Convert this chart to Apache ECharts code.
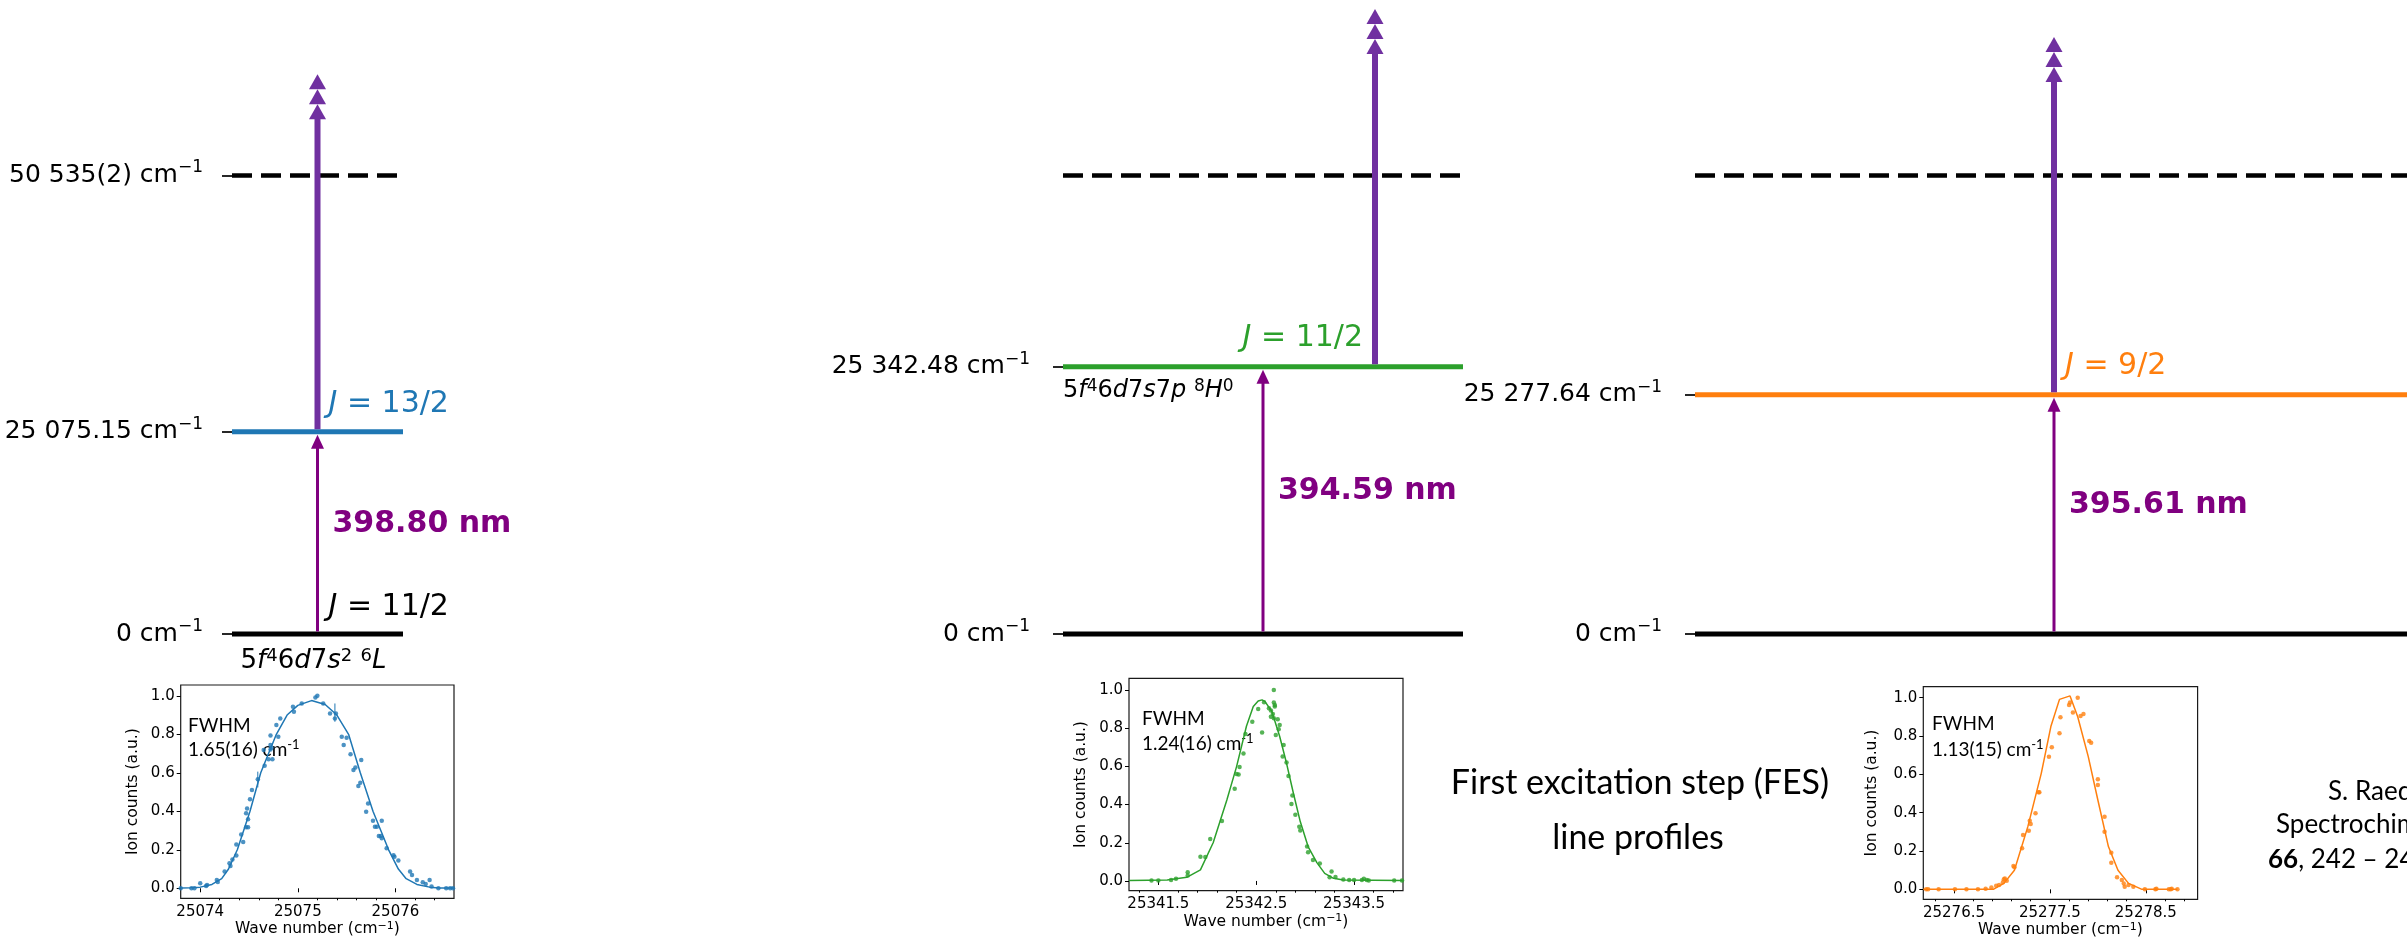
<!DOCTYPE html>
<html>
<head>
<meta charset="utf-8">
<script src="https://cdn.jsdelivr.net/npm/echarts@6/dist/echarts.min.js"></script>
<style>
html,body{margin:0;padding:0;background:#fff;}
#c{width:2407px;height:943px;}
</style>
</head>
<body>
<div id="c"></div>
<script>
// ---------------- DATA ----------------
const levelColors = ['#1f77b4', '#2ca02c', '#ff7f0e'];
const fesEnergyLabels = ['25 075.15', '25 342.48', '25 277.64'];
const groundEnergyLabel = '0';
const ipEnergyLabel = '50 535(2)';
// schematic level heights (ionisation potential = 1)
const fesLevelHeight = [0.441, 0.583, 0.522];
const ipLevelHeight = 1.0;
const secondStepLength = 0.78;
const fesWavelengths = ['398.80 nm', '394.59 nm', '395.61 nm'];
const fesJ = ['13/2', '11/2', '9/2'];
const groundJ = '11/2';
const firstStepX = [0.5, 0.5, 0.5];
const secondStepX = [0.5, 0.78, 0.5];
const showIpLabel = [true, false, false];
const groundConfig = '5{i|f}{s|4}6{i|d}7{i|s}{s|2} {s|6}{i|L}';
const fesConfig2 = '5{i|f}{s|4}6{i|d}7{i|s}7{i|p} {s|8}{i|H}{s|0}';

const fwhmLabels = ['1.65(16)', '1.24(16)', '1.13(15)'];
const insetXTicks = [
  [25074, 25075, 25076],
  [25341.5, 25342.5, 25343.5],
  [25276.5, 25277.5, 25278.5]
];
const insetYTicks = [0, 0.2, 0.4, 0.6, 0.8, 1.0];

const fes1Data = [[25073.80,0.000],[25073.91,0.000],[25073.94,0.000],[25074.00,0.026],[25074.06,0.012],[25074.07,0.017],[25074.17,0.043],[25074.18,0.033],[25074.25,0.087],[25074.30,0.130],[25074.31,0.116],[25074.33,0.150],[25074.37,0.170],[25074.37,0.227],[25074.42,0.280],[25074.44,0.240],[25074.47,0.317],[25074.49,0.317],[25074.47,0.390],[25074.48,0.415],[25074.49,0.358],[25074.51,0.462],[25074.53,0.510],[25074.59,0.567],[25074.66,0.637],[25074.65,0.718],[25074.70,0.670],[25074.72,0.744],[25074.72,0.721],[25074.72,0.794],[25074.73,0.730],[25074.74,0.670],[25074.78,0.848],[25074.80,0.787],[25074.82,0.882],[25074.95,0.943],[25074.96,0.917],[25075.04,0.960],[25075.18,0.991],[25075.20,1.000],[25075.26,0.960],[25075.33,0.908],[25075.38,0.882],[25075.39,0.908],[25075.45,0.787],[25075.50,0.782],[25075.47,0.744],[25075.54,0.696],[25075.57,0.614],[25075.59,0.628],[25075.62,0.531],[25075.64,0.548],[25075.65,0.666],[25075.70,0.398],[25075.72,0.441],[25075.77,0.351],[25075.79,0.320],[25075.81,0.320],[25075.86,0.351],[25075.83,0.272],[25075.85,0.272],[25075.86,0.260],[25075.91,0.208],[25075.99,0.164],[25075.98,0.171],[25076.03,0.144],[25076.15,0.087],[25076.17,0.069],[25076.22,0.043],[25076.28,0.031],[25076.31,0.022],[25076.35,0.043],[25076.37,0.009],[25076.44,0.000],[25076.52,0.000],[25076.56,0.000],[25076.59,0.000]];
const fes1Fit = [[25073.80,0.002],[25073.90,0.003],[25074.00,0.006],[25074.12,0.020],[25074.22,0.050],[25074.29,0.100],[25074.38,0.200],[25074.51,0.400],[25074.62,0.600],[25074.78,0.800],[25074.89,0.900],[25075.00,0.950],[25075.14,0.975],[25075.28,0.955],[25075.40,0.900],[25075.52,0.800],[25075.64,0.600],[25075.77,0.400],[25075.93,0.200],[25076.03,0.100],[25076.11,0.050],[25076.22,0.020],[25076.35,0.006],[25076.45,0.002],[25076.60,0.001]];
const fes1ErrorBars = [[25074.59,0.524,0.606],[25075.38,0.865,0.960]];

const fes2Data = [[25341.43,0.002],[25341.50,0.003],[25341.63,0.005],[25341.68,0.012],[25341.80,0.045],[25341.80,0.028],[25341.93,0.127],[25341.98,0.126],[25342.03,0.220],[25342.15,0.314],[25342.28,0.483],[25342.30,0.560],[25342.32,0.557],[25342.33,0.597],[25342.37,0.667],[25342.39,0.770],[25342.46,0.834],[25342.52,0.900],[25342.56,0.777],[25342.58,0.935],[25342.63,0.904],[25342.65,0.892],[25342.65,0.860],[25342.67,0.874],[25342.68,1.000],[25342.68,0.934],[25342.69,0.921],[25342.69,0.913],[25342.68,0.852],[25342.70,0.764],[25342.72,0.846],[25342.74,0.817],[25342.73,0.794],[25342.78,0.712],[25342.77,0.651],[25342.81,0.620],[25342.83,0.550],[25342.87,0.447],[25342.86,0.403],[25342.90,0.346],[25342.94,0.284],[25342.95,0.264],[25343.02,0.180],[25343.03,0.150],[25343.08,0.110],[25343.15,0.091],[25343.25,0.019],[25343.27,0.050],[25343.31,0.021],[25343.39,0.007],[25343.45,0.005],[25343.50,0.005],[25343.58,0.005],[25343.60,0.012],[25343.63,0.005],[25343.65,0.002],[25343.91,0.002],[25343.99,0.002]];
const fes2Fit = [[25341.20,0.003],[25341.59,0.005],[25341.79,0.019],[25341.93,0.058],[25342.06,0.200],[25342.20,0.424],[25342.30,0.600],[25342.40,0.810],[25342.47,0.913],[25342.52,0.942],[25342.56,0.948],[25342.59,0.939],[25342.66,0.887],[25342.74,0.756],[25342.81,0.616],[25342.88,0.459],[25342.95,0.311],[25343.03,0.180],[25343.12,0.096],[25343.20,0.040],[25343.29,0.014],[25343.39,0.005],[25344.00,0.003]];

const fes3Data = [[25276.21,0.000],[25276.23,0.000],[25276.34,0.000],[25276.51,0.000],[25276.63,0.000],[25276.75,0.000],[25276.83,0.003],[25276.89,0.009],[25276.94,0.019],[25276.97,0.023],[25277.01,0.037],[25277.02,0.052],[25277.03,0.057],[25277.05,0.045],[25277.12,0.122],[25277.13,0.115],[25277.21,0.214],[25277.22,0.283],[25277.28,0.306],[25277.29,0.358],[25277.30,0.341],[25277.35,0.397],[25277.38,0.506],[25277.39,0.506],[25277.49,0.692],[25277.52,0.741],[25277.60,0.814],[25277.61,0.897],[25277.70,0.962],[25277.71,0.974],[25277.74,0.922],[25277.79,1.000],[25277.82,0.904],[25277.85,0.915],[25277.91,0.774],[25277.93,0.765],[25278.00,0.574],[25278.00,0.544],[25278.07,0.379],[25278.07,0.301],[25278.14,0.191],[25278.14,0.139],[25278.20,0.063],[25278.25,0.049],[25278.27,0.031],[25278.28,0.014],[25278.32,0.023],[25278.37,0.014],[25278.49,0.000],[25278.60,0.000],[25278.61,0.003],[25278.74,0.000],[25278.76,0.000],[25278.77,0.003],[25278.83,0.000]];
const fes3Fit = [[25276.18,0.000],[25276.91,0.000],[25277.02,0.031],[25277.13,0.100],[25277.27,0.327],[25277.41,0.605],[25277.51,0.849],[25277.60,0.991],[25277.71,1.009],[25277.79,0.900],[25277.90,0.692],[25278.00,0.466],[25278.11,0.223],[25278.21,0.100],[25278.32,0.031],[25278.46,0.000],[25278.83,0.000]];

const profileData = [fes1Data, fes2Data, fes3Data];
const profileFit = [fes1Fit, fes2Fit, fes3Fit];

// ---------------- LAYOUT ----------------
const FONT = 'DejaVu Sans';
const CAL = 'Lato';
const BASE_Y = 634;        // pixel row of the ground level
const PX_PER_UNIT = 458.5; // pixels per schematic unit
const Y_MAX = 1.38;
const panelLayout = [
  {left: 232, width: 171, axisOffset: 5, labelMargin: 24},
  {left: 1063, width: 400, axisOffset: 13, labelMargin: 20},
  {left: 1695, width: 718, axisOffset: 11, labelMargin: 22}
];
const insetLayout = [
  {left: 180.7, top: 685, width: 273.3, height: 213.3, xMin: 25073.80, xMax: 25076.60, yMin: -0.052, yMax: 1.056, nameGapY: 40, dec: 0},
  {left: 1129, top: 678.3, width: 274, height: 212.4, xMin: 25341.20, xMax: 25344.00, yMin: -0.051, yMax: 1.061, nameGapY: 40, dec: 1},
  {left: 1923.3, top: 686.7, width: 274.3, height: 212.6, xMin: 25276.18, xMax: 25279.04, yMin: -0.052, yMax: 1.057, nameGapY: 43, dec: 1}
];
const fwhmPos = [[188, 726, 750], [1142, 719, 744], [1932, 724, 750]];

function richFor(size, color, family, supScale, supRaise) {
  const s = Math.round(size * supScale);
  const H = s + 2 * supRaise;
  return {
    lineHeight: H,
    rich: {
      i: {fontStyle: 'italic', fontSize: size, fontFamily: family, color: color, fill: color},
      s: {fontSize: s, lineHeight: s, verticalAlign: 'top', fontFamily: family, color: color, fill: color},
      b: {fontWeight: 'bold', fontSize: size, fontFamily: family, color: color, fill: color}
    }
  };
}

const grids = [], xAxes = [], yAxes = [], series = [];

panelLayout.forEach((P, p) => {
  grids.push({left: P.left, width: P.width, top: BASE_Y - PX_PER_UNIT * Y_MAX, height: PX_PER_UNIT * Y_MAX,
    containLabel: false, outerBoundsMode: 'none'});
  xAxes.push({gridIndex: p, type: 'value', min: 0, max: 1, show: false});
  const vals = [0, fesLevelHeight[p]];
  const labs = [groundEnergyLabel + ' cm{s|\u22121}', fesEnergyLabels[p] + ' cm{s|\u22121}'];
  if (showIpLabel[p]) { vals.push(ipLevelHeight); labs.push(ipEnergyLabel + ' cm{s|\u22121}'); }
  const R = richFor(25, '#000', FONT, 0.68, 7.5);
  yAxes.push({gridIndex: p, type: 'value', min: 0, max: Y_MAX, position: 'left', offset: P.axisOffset,
    axisLine: {show: false}, splitLine: {show: false},
    axisTick: {show: true, length: 10, inside: false, customValues: vals, lineStyle: {color: '#000', width: 1.7}},
    axisLabel: {show: true, customValues: vals, margin: P.labelMargin,
      formatter: v => { for (let k = 0; k < vals.length; k++) if (Math.abs(vals[k] - v) < 1e-6) return labs[k]; return ''; },
      fontSize: 25, fontFamily: FONT, color: '#000', lineHeight: R.lineHeight, rich: R.rich}
  });

  // levels
  const levels = [
    {x0: 0, x1: 1, y: ipLevelHeight, color: '#000', dash: true},
    {x0: 0, x1: 1, y: 0, color: '#000', dash: false},
    {x0: 0, x1: 1, y: fesLevelHeight[p], color: levelColors[p], dash: false}
  ];
  series.push({type: 'custom', xAxisIndex: p, yAxisIndex: p, z: 2, silent: true,
    data: levels.map(L => [L.x0, L.y, L.x1]),
    renderItem: (params, api) => {
      const L = levels[params.dataIndex];
      const a = api.coord([L.x0, L.y]), b = api.coord([L.x1, L.y]);
      return {type: 'line', shape: {x1: a[0], y1: a[1], x2: b[0], y2: b[1]},
        style: {stroke: L.color, lineWidth: L.dash ? 4.5 : 5, lineDash: L.dash ? [20, 9] : null, lineCap: 'butt'}};
    }
  });

  // arrows
  const arrows = [
    {x: firstStepX[p], y0: 0, y1: fesLevelHeight[p], kind: 'fes'},
    {x: secondStepX[p], y0: fesLevelHeight[p], y1: fesLevelHeight[p] + secondStepLength, kind: 'ion'}
  ];
  series.push({type: 'custom', xAxisIndex: p, yAxisIndex: p, z: 3, silent: true,
    data: arrows.map(A => [A.x, A.y0, A.y1]),
    renderItem: (params, api) => {
      const A = arrows[params.dataIndex];
      const a = api.coord([A.x, A.y0]), b = api.coord([A.x, A.y1]);
      const x = a[0];
      const ch = [];
      if (A.kind === 'fes') {
        const tip = b[1] + 3, hh = 14, hw = 6.5;
        ch.push({type: 'line', shape: {x1: x, y1: a[1] - 2.5, x2: x, y2: tip + hh - 1}, style: {stroke: '#800080', lineWidth: 3}});
        ch.push({type: 'polygon', shape: {points: [[x, tip], [x - hw, tip + hh], [x + hw, tip + hh]]}, style: {fill: '#800080'}});
      } else {
        const tip = b[1], hh = 15, hw = 8.5;
        ch.push({type: 'line', shape: {x1: x, y1: a[1] - 2.5, x2: x, y2: tip + 3 * hh - 2}, style: {stroke: '#7030a0', lineWidth: 6}});
        for (let k = 0; k < 3; k++) {
          ch.push({type: 'polygon', shape: {points: [[x, tip + k * hh], [x - hw, tip + (k + 1) * hh], [x + hw, tip + (k + 1) * hh]]}, style: {fill: '#7030a0'}});
        }
      }
      return {type: 'group', children: ch};
    }
  });

  // labels
  const labels = [];
  labels.push({x: secondStepX[p], y: fesLevelHeight[p], text: '{i|J} = ' + fesJ[p], color: levelColors[p], size: 30,
    dx: p === 1 ? -12 : 11, dy: -28, align: p === 1 ? 'right' : 'left'});
  labels.push({x: firstStepX[p], y: fesLevelHeight[p] / 2, text: fesWavelengths[p], color: '#800080', size: 30, weight: 'bold',
    dx: 15, dy: -9, align: 'left'});
  if (p === 0) {
    labels.push({x: firstStepX[p], y: 0, text: '{i|J} = ' + groundJ, color: '#000', size: 30, dx: 11, dy: -27, align: 'left'});
    labels.push({x: firstStepX[p], y: 0, text: groundConfig, color: '#000', size: 26, dx: -4, dy: 27, align: 'center', sup: 4.5});
  }
  if (p === 1) {
    labels.push({x: 0, y: fesLevelHeight[p], text: fesConfig2, color: '#000', size: 24, dx: 0, dy: 24, align: 'left', sup: 4});
  }
  series.push({type: 'custom', xAxisIndex: p, yAxisIndex: p, z: 4, silent: true,
    data: labels.map(T => [T.x, T.y]),
    renderItem: (params, api) => {
      const T = labels[params.dataIndex];
      const c = api.coord([T.x, T.y]);
      const R = richFor(T.size, T.color, FONT, 0.7, T.sup || 4);
      return {type: 'text', x: c[0] + T.dx, y: c[1] + T.dy,
        style: {text: T.text, fill: T.color, fontSize: T.size, fontFamily: FONT, fontWeight: T.weight || 'normal',
          lineHeight: R.lineHeight, rich: R.rich, align: T.align, verticalAlign: 'middle'}};
    }
  });
});

// ---------------- INSETS ----------------
insetLayout.forEach((I, i) => {
  const g = 3 + i;
  grids.push({left: I.left, top: I.top, width: I.width, height: I.height, show: true,
    borderColor: '#1a1a1a', borderWidth: 1.2, backgroundColor: 'transparent', containLabel: false, outerBoundsMode: 'none'});
  const Rn = richFor(15.5, '#000', FONT, 0.7, 3.5);
  xAxes.push({gridIndex: g, type: 'value', min: I.xMin, max: I.xMax, position: 'bottom',
    axisLine: {show: false}, splitLine: {show: false},
    axisTick: {show: true, length: 4, inside: false, customValues: insetXTicks[i], lineStyle: {color: '#000', width: 1}},
    axisLabel: {show: true, customValues: insetXTicks[i], margin: 6, fontSize: 15, fontFamily: FONT, color: '#000',
      formatter: v => v.toFixed(I.dec)},
    name: 'Wave number (cm{s|\u22121})', nameLocation: 'middle', nameGap: 20,
    nameTextStyle: {fontSize: 15.5, fontFamily: FONT, color: '#000', lineHeight: Rn.lineHeight, rich: Rn.rich}
  });
  yAxes.push({gridIndex: g, type: 'value', min: I.yMin, max: I.yMax, position: 'left',
    axisLine: {show: false}, splitLine: {show: false},
    axisTick: {show: true, length: 4, inside: false, customValues: insetYTicks, lineStyle: {color: '#000', width: 1}},
    axisLabel: {show: true, customValues: insetYTicks, margin: 6, fontSize: 15, fontFamily: FONT, color: '#000',
      formatter: v => v.toFixed(1)},
    name: 'Ion counts (a.u.)', nameLocation: 'middle', nameGap: I.nameGapY,
    nameTextStyle: {fontSize: 15.5, fontFamily: FONT, color: '#000'}
  });
});
// minor x ticks of the insets
insetLayout.forEach((I, i) => {
  const minor = [];
  const start = insetXTicks[i][0];
  for (let k = -10; k <= 20; k++) {
    const v = +(start + k * 0.2).toFixed(3);
    if (v > I.xMin + 1e-6 && v < I.xMax - 1e-6 && Math.abs((v - start) % 1) > 1e-6 && Math.abs((v - start) % 1 - 1) > 1e-6) minor.push(v);
  }
  xAxes.push({gridIndex: 3 + i, type: 'value', min: I.xMin, max: I.xMax, position: 'bottom',
    axisLine: {show: false}, splitLine: {show: false}, axisLabel: {show: false},
    axisTick: {show: true, length: 2, inside: false, customValues: minor, lineStyle: {color: '#000', width: 1}}});
});

insetLayout.forEach((I, i) => {
  const g = 3 + i;
  series.push({type: 'line', xAxisIndex: g, yAxisIndex: g, data: profileFit[i], showSymbol: false, symbol: 'none',
    lineStyle: {color: levelColors[i], width: 1.5}, silent: true, z: 3});
  series.push({type: 'scatter', xAxisIndex: g, yAxisIndex: g, data: profileData[i], symbolSize: 4.5,
    itemStyle: {color: levelColors[i]}, silent: true, z: 4});
});
series.push({type: 'custom', xAxisIndex: 3, yAxisIndex: 3, silent: true, z: 4,
  data: fes1ErrorBars,
  renderItem: (params, api) => {
    const a = api.coord([api.value(0), api.value(1)]), b = api.coord([api.value(0), api.value(2)]);
    return {type: 'line', shape: {x1: a[0], y1: a[1], x2: b[0], y2: b[1]}, style: {stroke: levelColors[0], lineWidth: 1}};
  }
});

// ---------------- TEXT ----------------
const graphics = [];
fwhmPos.forEach((F, i) => {
  const R = richFor(19, '#000', CAL, 0.68, 5);
  graphics.push({type: 'text', x: F[0], y: F[1], silent: true,
    style: {text: 'FWHM', fontSize: 19, fontFamily: CAL, fill: '#000', align: 'left', verticalAlign: 'middle'}});
  graphics.push({type: 'text', x: F[0], y: F[2], silent: true,
    style: {text: fwhmLabels[i] + ' cm{s|-1}', fontSize: 19, fontFamily: CAL, fill: '#000', align: 'left', verticalAlign: 'middle',
      lineHeight: R.lineHeight, rich: R.rich}});
});
graphics.push({type: 'text', x: 1640, y: 783, silent: true,
  style: {text: 'First excitation step (FES)', fontSize: 34, fontFamily: CAL, fill: '#000', align: 'center', verticalAlign: 'middle'}});
graphics.push({type: 'text', x: 1638, y: 838, silent: true,
  style: {text: 'line profiles', fontSize: 34, fontFamily: CAL, fill: '#000', align: 'center', verticalAlign: 'middle'}});
const refR = richFor(26, '#000', CAL, 0.7, 4);
graphics.push({type: 'text', x: 2328, y: 792, silent: true,
  style: {text: 'S. Raeder et al.,', fontSize: 26, fontFamily: CAL, fill: '#000', align: 'left', verticalAlign: 'middle'}});
graphics.push({type: 'text', x: 2276, y: 825, silent: true,
  style: {text: 'Spectrochimica Acta B', fontSize: 26, fontFamily: CAL, fill: '#000', align: 'left', verticalAlign: 'middle'}});
graphics.push({type: 'text', x: 2268, y: 860, silent: true,
  style: {text: '{b|66}, 242 \u2013 247 (2011)', fontSize: 26, fontFamily: CAL, fill: '#000', align: 'left', verticalAlign: 'middle',
    rich: refR.rich}});

const chart = echarts.init(document.getElementById('c'), null, {renderer: 'canvas', width: 2407, height: 943});
chart.setOption({
  animation: false,
  backgroundColor: '#fff',
  grid: grids,
  xAxis: xAxes,
  yAxis: yAxes,
  series: series,
  graphic: graphics
});
</script>
</body>
</html>
